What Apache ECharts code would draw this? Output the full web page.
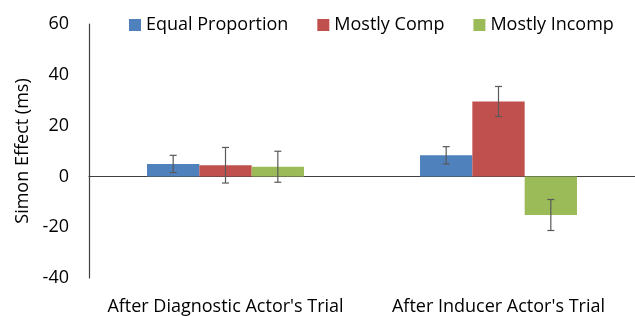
<!DOCTYPE html>
<html>
<head>
<meta charset="utf-8">
<script src="https://cdn.jsdelivr.net/npm/echarts@6/dist/echarts.min.js"></script>
<style>
  html, body { margin: 0; padding: 0; background: #ffffff; }
  #chart { width: 635px; height: 316px; }
</style>
</head>
<body>
<div id="chart"></div>
<script>
  // data
  const categories = ["After Diagnostic Actor's Trial", "After Inducer Actor's Trial"]
  const seriesNames = ['Equal Proportion', 'Mostly Comp', 'Mostly Incomp']
  const equalProportion = [4.9, 8.3]
  const mostlyComp = [4.4, 29.5]
  const mostlyIncomp = [3.8, -15.2]
  const equalProportionErr = [3.4, 3.4]
  const mostlyCompErr = [7.0, 5.9]
  const mostlyIncompErr = [6.1, 6.1]

  const colors = ['#4F81BD', '#C0504D', '#9BBB59']
  const values = [equalProportion, mostlyComp, mostlyIncomp]
  const errors = [equalProportionErr, mostlyCompErr, mostlyIncompErr]
  const categoryGap = 0.425
  const font = 'Open Sans'
  const fontSize = 18

  let chart = echarts.init(document.getElementById('chart'))

  // error bar series, one per bar series, placed over its own bar
  function errorSeries (idx) {
    let data = values[idx].map((v, i) => [i, v - errors[idx][i], v + errors[idx][i]])
    return {
      type: 'custom',
      name: seriesNames[idx] + ' err',
      z: 10,
      silent: true,
      data: data,
      renderItem (params, api) {
        let cat = api.value(0)
        let low = api.coord([cat, api.value(1)])
        let high = api.coord([cat, api.value(2)])
        let band = api.size([1, 0])[0]
        let barW = band * (1 - categoryGap) / 3
        let x = low[0] + (idx - 1) * barW
        let cap = 3.5
        let style = { stroke: '#595959', lineWidth: 1.2 }
        return {
          type: 'group',
          children: [
            { type: 'line', shape: { x1: x, y1: high[1], x2: x, y2: low[1] }, style: style },
            { type: 'line', shape: { x1: x - cap, y1: high[1], x2: x + cap, y2: high[1] }, style: style },
            { type: 'line', shape: { x1: x - cap, y1: low[1], x2: x + cap, y2: low[1] }, style: style }
          ]
        }
      }
    }
  }

  let series = seriesNames.map((name, idx) => ({
    name: name,
    type: 'bar',
    data: values[idx],
    barGap: '0%',
    barCategoryGap: (categoryGap * 100) + '%',
    itemStyle: { color: colors[idx] }
  }))
  seriesNames.forEach((name, idx) => series.push(errorSeries(idx)))

  chart.setOption({
    animation: false,
    textStyle: { fontFamily: font },
    legend: {
      data: seriesNames,
      top: 16,
      left: 129,
      padding: 0,
      itemWidth: 12,
      itemHeight: 12,
      itemGap: 29,
      icon: 'rect',
      textStyle: { fontFamily: font, fontSize: fontSize, color: '#000' }
    },
    grid: {
      left: 89,
      right: 0,
      top: 24,
      bottom: 37
    },
    xAxis: {
      type: 'category',
      data: categories,
      axisLine: { onZero: true, lineStyle: { color: '#404040', width: 1.2 } },
      axisTick: { show: false },
      axisLabel: {
        interval: 0,
        fontFamily: font,
        fontSize: fontSize,
        color: '#000',
        margin: 20
      }
    },
    yAxis: {
      type: 'value',
      min: -40,
      max: 60,
      interval: 20,
      name: 'Simon Effect (ms)',
      nameLocation: 'middle',
      nameGap: 52,
      nameTextStyle: { fontFamily: font, fontSize: fontSize, color: '#000' },
      axisLine: { show: true, lineStyle: { color: '#404040', width: 1.2 } },
      axisTick: { show: false },
      splitLine: { show: false },
      axisLabel: { fontFamily: font, fontSize: fontSize, color: '#000', margin: 20 }
    },
    series: series
  })
</script>
</body>
</html>
